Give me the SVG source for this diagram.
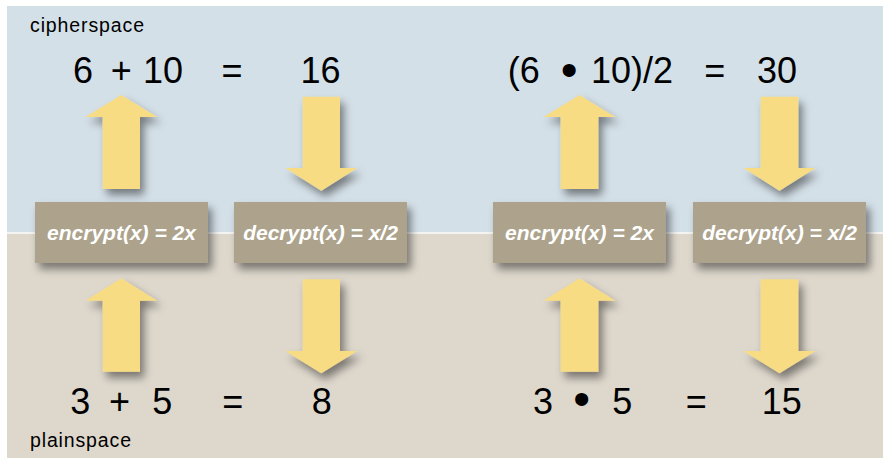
<svg xmlns="http://www.w3.org/2000/svg" width="883" height="458" viewBox="0 0 883 458">
<defs>
<filter id="sh" x="-30%" y="-30%" width="170%" height="170%">
<feDropShadow dx="4" dy="6" stdDeviation="4.5" flood-color="#000" flood-opacity="0.45"/>
</filter>
<style>
.eq{font-family:"Liberation Sans",Arial,Helvetica,sans-serif;font-size:36px;fill:#000;text-anchor:middle}
.bul{font-family:"Liberation Sans",Arial,Helvetica,sans-serif;font-size:48px;fill:#000;text-anchor:middle}
.lbl{font-family:"Liberation Sans",Arial,Helvetica,sans-serif;font-size:19.5px;fill:#000}
.box{fill:#ada38c;filter:url(#sh)}
.bt{font-family:"Liberation Sans",Arial,Helvetica,sans-serif;font-size:21px;font-weight:bold;font-style:italic;fill:#fff;text-anchor:middle}
.arr{fill:#f8dc84;filter:url(#sh)}
</style>
</defs>
<rect x="0" y="0" width="883" height="458" fill="#fff"/>
<rect x="7" y="6" width="876" height="227" fill="#d4e0e8"/>
<rect x="7" y="233" width="876" height="225" fill="#ddd7cc"/>
<line x1="7" y1="233" x2="883" y2="233" stroke="#f4f4f2" stroke-width="2"/>

<g id="labels">
<text class="lbl" x="30" y="31.5" textLength="114" lengthAdjust="spacing">cipherspace</text>
<text class="lbl" x="30" y="447" textLength="101" lengthAdjust="spacing">plainspace</text>
</g>

<g id="connectors">
<path class="arr" d="M102.7,189 V117 H85.3 L121.3,95 L157.3,117 H140 V189 Z"/>
<path class="arr" d="M302.7,96.7 H340 V168 H357.3 L321.3,190.7 L285.3,168 H302.7 Z"/>
<path class="arr" d="M102.7,371.7 V300.7 H85.3 L121.3,278.3 L157.3,300.7 H140 V371.7 Z"/>
<path class="arr" d="M302.7,279.3 H340 V351 H357.3 L321.3,373.3 L285.3,351 H302.7 Z"/>
<path class="arr" d="M560.7,189 V117 H543.5 L579.5,95 L615.5,117 H598.3 V189 Z"/>
<path class="arr" d="M760.7,96.7 H798.3 V168 H815.5 L779.5,190.7 L743.5,168 H760.7 Z"/>
<path class="arr" d="M560.7,371.7 V300.7 H543.5 L579.5,278.3 L615.5,300.7 H598.3 V371.7 Z"/>
<path class="arr" d="M760.7,279.3 H798.3 V351 H815.5 L779.5,373.3 L743.5,351 H760.7 Z"/>
</g>

<g id="enc1"><rect class="box" x="35" y="202" width="173" height="61"/><text class="bt" x="121.5" y="239.5">encrypt(x) = 2x</text></g>
<g id="dec1"><rect class="box" x="234" y="202" width="173" height="61"/><text class="bt" x="320.5" y="239.5">decrypt(x) = x/2</text></g>
<g id="enc2"><rect class="box" x="493" y="202" width="173" height="61"/><text class="bt" x="579.5" y="239.5">encrypt(x) = 2x</text></g>
<g id="dec2"><rect class="box" x="693" y="202" width="173" height="61"/><text class="bt" x="779.5" y="239.5">decrypt(x) = x/2</text></g>

<g id="eq-cipher-add">
<text class="eq" x="83" y="83">6</text>
<text class="eq" x="121.2" y="83">+</text>
<text class="eq" x="163" y="83">10</text>
<text class="eq" x="232" y="83">=</text>
<text class="eq" x="320.5" y="83">16</text>
</g>
<g id="eq-plain-add">
<text class="eq" x="80.3" y="414">3</text>
<text class="eq" x="119.5" y="414">+</text>
<text class="eq" x="162.2" y="414">5</text>
<text class="eq" x="232.7" y="414">=</text>
<text class="eq" x="321.7" y="414">8</text>
</g>
<g id="eq-cipher-mul">
<text class="eq" x="523.7" y="83">(6</text>
<text class="bul" x="569.2" y="85.5">•</text>
<text class="eq" x="632" y="83">10)/2</text>
<text class="eq" x="714.7" y="83">=</text>
<text class="eq" x="777" y="83">30</text>
</g>
<g id="eq-plain-mul">
<text class="eq" x="543" y="414">3</text>
<text class="bul" x="581.7" y="415">•</text>
<text class="eq" x="622.2" y="414">5</text>
<text class="eq" x="696.3" y="414">=</text>
<text class="eq" x="781.7" y="414">15</text>
</g>
</svg>
